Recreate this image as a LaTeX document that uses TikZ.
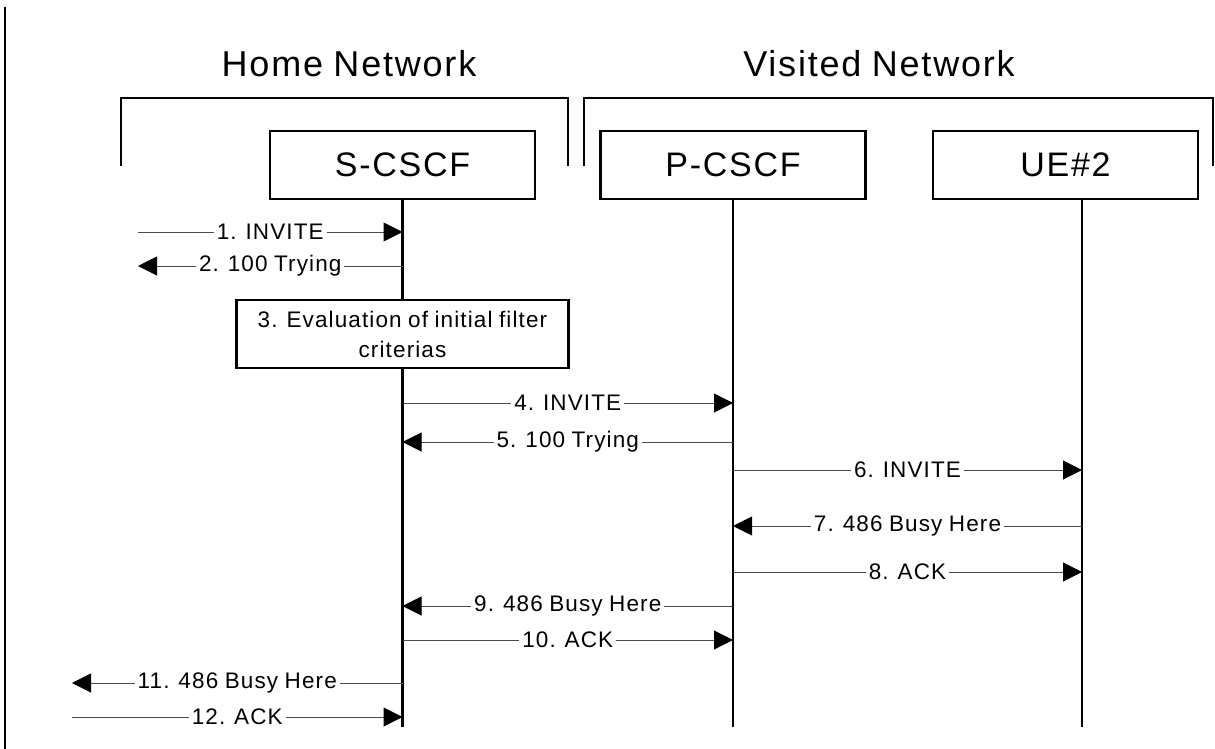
\documentclass[tikz,border=0pt]{standalone}
\usepackage{fontspec}
\setmainfont[LetterSpace=5,WordSpace=0.88]{Liberation Sans}
\usepackage{tikz}
\usetikzlibrary{arrows.meta,positioning}

\tikzset{
  entity/.style={draw, line width=2.2pt, minimum width=265pt, minimum height=68pt,
                 inner sep=0pt, font=\fontsize{34}{38}\selectfont},
  lifeline/.style={line width=2.2pt},
  bracket/.style={line width=2.2pt},
  msg/.style={line width=1pt, draw=black!70,
              -{Triangle[length=19pt,width=19pt,color=black]}},
  lbl/.style={fill=white, inner sep=3pt, font=\fontsize{22.5}{26}\selectfont},
}

\begin{document}
\begin{tikzpicture}[x=1pt, y=-1pt]
  \useasboundingbox (0,0) rectangle (1215,749);

  % left rule
  \draw[line width=2.8pt] (5,7) -- (5,749);

  % network titles
  \node[font=\fontsize{36}{40}\selectfont] (home) at (349,64) {Home Network};
  \node[font=\fontsize{36}{40}\selectfont] (visited) at (879,64) {Visited Network};

  % brackets
  \draw[bracket] (121,166) -- (121,98) -- (568,98) -- (568,166);
  \draw[bracket] (584,166) -- (584,98) -- (1213,98) -- (1213,166);

  % entities
  \node[entity] (scscf) at (402.5,165) {S-CSCF};
  \node[entity] (pcscf) at (733,165) {P-CSCF};
  \node[entity] (ue) at (1065.5,165) {UE\#2};

  % lifelines
  \coordinate (uetop) at (1082,199);
  \coordinate (sbot) at (402.5,727);
  \coordinate (pbot) at (733,727);
  \coordinate (uebot) at (1082,727);
  \draw[lifeline] (scscf.south) -- (sbot);
  \draw[lifeline] (pcscf.south) -- (pbot);
  \draw[lifeline] (uetop) -- (uebot);

  % outside ends
  \coordinate (outA) at (138,0);
  \coordinate (outB) at (72,0);

  % message rows
  \coordinate (m1) at (0,232);
  \coordinate (m2) at (0,266);
  \coordinate (m4) at (0,403);
  \coordinate (m5) at (0,442);
  \coordinate (m6) at (0,470);
  \coordinate (m7) at (0,526);
  \coordinate (m8) at (0,572);
  \coordinate (m9) at (0,606);
  \coordinate (m10) at (0,640);
  \coordinate (m11) at (0,683);
  \coordinate (m12) at (0,717);

  % messages
  \draw[msg] (m1 -| outA) -- node[lbl] {1. INVITE} (m1 -| scscf.south);
  \draw[msg] (m2 -| scscf.south) -- node[lbl] {2. 100 Trying} (m2 -| outA);

  % filter criteria evaluation
  \node[draw, fill=white, line width=2.2pt, minimum width=332pt, minimum height=68pt,
        align=center, font=\fontsize{22.5}{30}\selectfont] (eval) at (402.5,334)
  {3. Evaluation of initial filter\\criterias};

  \draw[msg] (m4 -| scscf.south) -- node[lbl] {4. INVITE} (m4 -| pcscf.south);
  \draw[msg] (m5 -| pcscf.south) -- node[lbl] {5. 100 Trying} (m5 -| scscf.south);
  \draw[msg] (m6 -| pcscf.south) -- node[lbl] {6. INVITE} (m6 -| uetop);
  \draw[msg] (m7 -| uetop) -- node[lbl] {7. 486 Busy Here} (m7 -| pcscf.south);
  \draw[msg] (m8 -| pcscf.south) -- node[lbl] {8. ACK} (m8 -| uetop);
  \draw[msg] (m9 -| pcscf.south) -- node[lbl] {9. 486 Busy Here} (m9 -| scscf.south);
  \draw[msg] (m10 -| scscf.south) -- node[lbl] {10. ACK} (m10 -| pcscf.south);
  \draw[msg] (m11 -| scscf.south) -- node[lbl] {11. 486 Busy Here} (m11 -| outB);
  \draw[msg] (m12 -| outB) -- node[lbl] {12. ACK} (m12 -| scscf.south);
\end{tikzpicture}
\end{document}
